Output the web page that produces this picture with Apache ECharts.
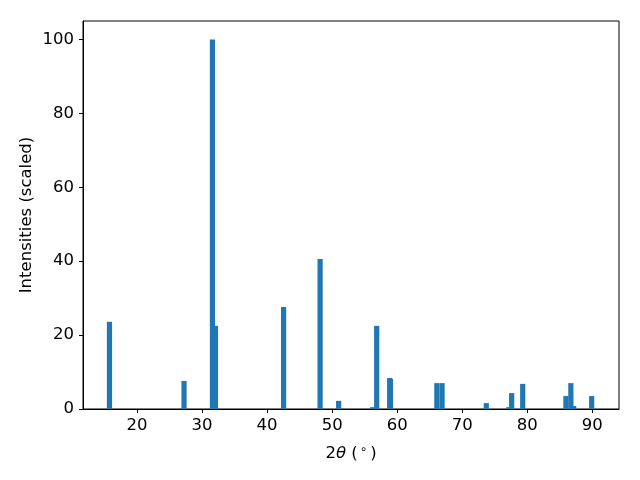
<!DOCTYPE html>
<html>
<head>
<meta charset="utf-8">
<script src="https://cdn.jsdelivr.net/npm/echarts@6/dist/echarts.min.js"></script>
<style>html,body{margin:0;padding:0;background:#fff}#c{width:640px;height:480px}</style>
</head>
<body>
<div id="c"></div>
<script>
const twoTheta = [15.77, 27.23, 31.6, 32.06, 42.54, 48.15, 51.0, 56.24, 56.85, 58.85, 58.97, 66.1, 66.9, 73.7, 77.17, 77.6, 79.3, 85.94, 86.7, 87.14, 89.9];
const intensity = [23.6, 7.6, 100, 22.5, 27.6, 40.6, 2.2, 0.5, 22.5, 8.4, 8.1, 7.0, 7.0, 1.6, 0.5, 4.3, 6.8, 3.5, 7.0, 0.8, 3.5];
const xTicks = [20, 30, 40, 50, 60, 70, 80, 90];
const yTicks = [0, 20, 40, 60, 80, 100];
const barWidth = 0.8;

const data = twoTheta.map((t, i) => [t, intensity[i]]);
const font = 'DejaVu Sans';
const fs = 16.5;
const chart = echarts.init(document.getElementById('c'), null, {renderer: 'canvas'});
chart.setOption({
  animation: false,
  grid: {left: 83, right: 21, top: 21, bottom: 71, show: true, borderColor: '#000', borderWidth: 1, backgroundColor: 'transparent'},
  xAxis: {
    type: 'value', min: 11.7, max: 94.1,
    name: '2{i|θ} ({s|∘})', nameLocation: 'middle', nameGap: 35,
    nameTextStyle: {fontFamily: font, fontSize: fs, color: '#000',
      rich: {i: {fontFamily: font, fontStyle: 'italic', fontSize: fs, color: '#000'},
             s: {fontFamily: font, fontSize: 12, color: '#000', verticalAlign: 'top', padding: [0, 3, 7, 2]}}},
    axisLine: {show: true, onZero: false, lineStyle: {color: '#000', width: 1}},
    axisTick: {show: true, length: 4, customValues: xTicks, lineStyle: {color: '#000'}},
    axisLabel: {customValues: xTicks, fontFamily: font, fontSize: fs, color: '#000', margin: 8},
    splitLine: {show: false}
  },
  yAxis: {
    type: 'value', min: 0, max: 105,
    name: 'Intensities (scaled)', nameLocation: 'middle', nameGap: 48, nameMoveOverlap: false,
    nameTextStyle: {fontFamily: font, fontSize: fs, color: '#000'},
    axisLine: {show: true, lineStyle: {color: '#000', width: 1}},
    axisTick: {show: true, length: 4, customValues: yTicks, lineStyle: {color: '#000'}},
    axisLabel: {customValues: yTicks, fontFamily: font, fontSize: fs, color: '#000', margin: 9},
    splitLine: {show: false}
  },
  series: [{
    type: 'custom',
    data: data,
    encode: {x: 0, y: 1},
    renderItem: function (params, api) {
      const x = api.value(0), y = api.value(1);
      const p0 = api.coord([x - barWidth / 2, y]);
      const p1 = api.coord([x + barWidth / 2, 0]);
      return {
        type: 'rect',
        shape: {x: p0[0], y: p0[1], width: p1[0] - p0[0], height: p1[1] - p0[1]},
        style: {fill: '#1f77b4'}
      };
    }
  }]
});
</script>
</body>
</html>
